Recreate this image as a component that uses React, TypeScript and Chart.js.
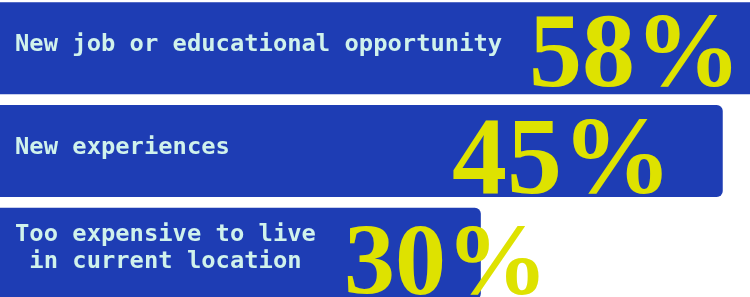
import React, { useEffect, useRef } from "react";
import { Chart, registerables } from "chart.js";

Chart.register(...registerables);

const categories: (string | string[])[] = [
  "New job or educational opportunity",
  "New experiences",
  ["Too expensive to live", "in current location"],
];
const values = [58, 45, 30];
const valueLabels = values.map((v) => `${v}%`);

// style constants
const BAR_COLOR = "#1e3db4";
const LABEL_COLOR = "#d0f2ec";
const VALUE_COLOR = "#dee200";
const VALUE_FONT_SIZES = [106, 110, 102];
const VALUE_TEXT_LEFT = [532, 455, 347];
const VALUE_BASELINE_OFFSET = [37.5, 41.5, 40];

const labelPlugin = {
  id: "insideLabels",
  afterDatasetsDraw(chart: any) {
    const ctx = chart.ctx as CanvasRenderingContext2D;
    const meta = chart.getDatasetMeta(0);
    ctx.save();
    meta.data.forEach((bar: any, i: number) => {
      const cy = bar.y;
      // category label
      ctx.fillStyle = LABEL_COLOR;
      ctx.font = "bold 23.8px 'DejaVu Sans Mono'";
      const cat = categories[i];
      if (Array.isArray(cat)) {
        const widest = Math.max(...cat.map((l) => ctx.measureText(l).width));
        ctx.textAlign = "center";
        ctx.textBaseline = "alphabetic";
        const cx = 18 + widest / 2;
        cat.forEach((line, j) => {
          const y = cy + 1 + (j - (cat.length - 1) / 2) * 26.6;
          ctx.fillText(line, cx, y);
        });
      } else {
        ctx.textAlign = "left";
        ctx.textBaseline = "alphabetic";
        ctx.fillText(cat, 18, cy + 2.5);
      }
      // value label
      ctx.fillStyle = VALUE_COLOR;
      ctx.font = `bold ${VALUE_FONT_SIZES[i]}px 'Liberation Serif'`;
      ctx.textAlign = "left";
      ctx.textBaseline = "alphabetic";
      ctx.fillText(valueLabels[i], VALUE_TEXT_LEFT[i], cy + VALUE_BASELINE_OFFSET[i]);
    });
    ctx.restore();
  },
};

export default function App() {
  const canvasRef = useRef<HTMLCanvasElement | null>(null);

  useEffect(() => {
    document.body.style.margin = "0";
    document.documentElement.style.overflow = "hidden";
    const canvas = canvasRef.current;
    if (!canvas) return;
    const chart = new Chart(canvas, {
      type: "bar",
      data: {
        labels: categories.map((c) => (Array.isArray(c) ? c.join(" ") : c)),
        datasets: [
          {
            data: values,
            backgroundColor: BAR_COLOR,
            borderRadius: 6,
            borderSkipped: "start",
            categoryPercentage: 1,
            barPercentage: 0.896,
          },
        ],
      },
      options: {
        indexAxis: "y",
        animation: false,
        responsive: false,
        devicePixelRatio: 1,
        layout: { padding: 0 },
        plugins: {
          legend: { display: false },
          tooltip: { enabled: false },
        },
        scales: {
          x: { display: false, min: 0, max: 46.69 },
          y: { display: false },
        },
      },
      plugins: [labelPlugin],
    });
    return () => chart.destroy();
  }, []);

  return (
    <div
      style={{
        position: "relative",
        width: 750,
        height: 297,
        overflow: "hidden",
        background: "#ffffff",
      }}
    >
      <canvas
        ref={canvasRef}
        width={753}
        height={308}
        style={{ position: "absolute", left: -3, top: -3, width: 753, height: 308 }}
      />
    </div>
  );
}
